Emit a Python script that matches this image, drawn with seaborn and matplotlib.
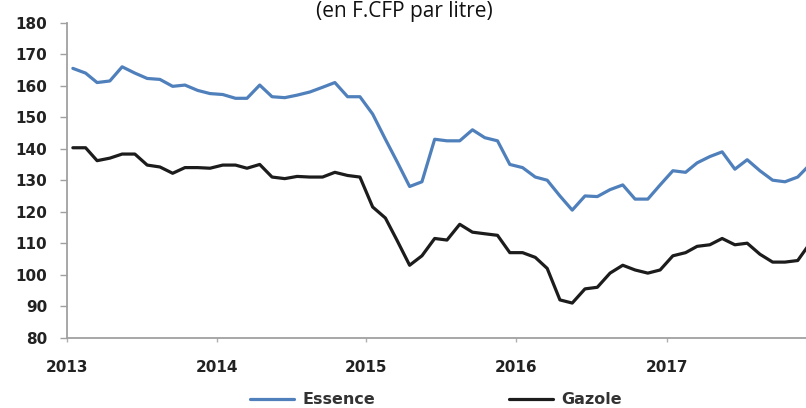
import numpy as np
import pandas as pd
import matplotlib
matplotlib.use("Agg")
import matplotlib.pyplot as plt
import matplotlib.dates as mdates
import seaborn as sns

# ---- data (monthly, F.CFP per litre) ----
months = pd.date_range("2013-01-01", periods=60, freq="MS") + pd.Timedelta(days=15)
essence = [165.5, 164, 161, 161.5, 166, 164, 162.3, 162, 159.8, 160.2, 158.5, 157.5,
           157.2, 156, 156, 160.2, 156.5, 156.2, 157, 158, 159.5, 161, 156.5, 156.5,
           151, 143, 136, 128, 129.5, 143, 142.5, 142.5, 146, 143.5, 142.5, 135,
           134, 131, 130, 125, 120.5, 125, 124.8, 127, 128.5, 124, 124, 128.5,
           133, 132.5, 135.5, 137.5, 139, 133.5, 136.5, 133, 130, 129.5, 131, 135]
gazole = [140.3, 140.3, 136.2, 137, 138.3, 138.3, 134.8, 134.2, 132.2, 134, 134, 133.8,
          134.8, 134.8, 133.8, 135, 131, 130.5, 131.2, 131, 131, 132.5, 131.5, 131,
          121.5, 118, 111, 103, 106, 111.5, 111, 116, 113.5, 113, 112.5, 107,
          107, 105.5, 102, 92, 91, 95.5, 96, 100.5, 103, 101.5, 100.5, 101.5,
          106, 107, 109, 109.5, 111.5, 109.5, 110, 106.5, 104, 104, 104.5, 110]
series_names = ["Essence", "Gazole"]
series_colors = ["#4f80bb", "#1c1c1c"]
yticks = list(range(80, 181, 10))
title = "(en F.CFP par litre)"

df = pd.DataFrame({
    "date": np.tile(months, 2),
    "prix": essence + gazole,
    "serie": np.repeat(series_names, len(months)),
})

sns.set_style("white")
plt.rcParams["font.family"] = ["DejaVu Sans"]

W, H = 806, 408
fig = plt.figure(figsize=(W / 100, H / 100), dpi=100)
x0, x1, ytop, ybot = 66.7, 806, 22.7, 337.7
ax = fig.add_axes([x0 / W, 1 - ybot / H, (x1 - x0) / W, (ybot - ytop) / H])

sns.lineplot(data=df, x="date", y="prix", hue="serie",
             palette=dict(zip(series_names, series_colors)),
             linewidth=2.3, ax=ax, legend=True)

# axes limits
start = pd.Timestamp("2013-01-01")
end = start + pd.Timedelta(days=365.25 * (x1 - x0) / 150.0)
ax.set_xlim(start, end)
ax.set_ylim(80, 180)
ax.set_yticks(yticks)
ax.xaxis.set_major_locator(mdates.YearLocator())
ax.xaxis.set_major_formatter(mdates.DateFormatter("%Y"))
ax.set_xlabel("")
ax.set_ylabel("")

for s in ["top", "right"]:
    ax.spines[s].set_visible(False)
for s in ["left", "bottom"]:
    ax.spines[s].set_color("#a0a0a0")
    ax.spines[s].set_linewidth(1.3)

ax.tick_params(axis="y", direction="out", length=5, width=1, color="#a0a0a0",
               pad=9, labelsize=11, labelcolor="#222222", left=True)
ax.tick_params(axis="x", direction="out", length=3, width=1, color="#b0b0b0",
               pad=13, labelsize=11, labelcolor="#222222", bottom=True)
for lab in ax.get_xticklabels() + ax.get_yticklabels():
    lab.set_fontweight("bold")

# legend below
handles, labels = ax.get_legend_handles_labels()
ax.get_legend().remove()
leg = fig.legend(handles, labels, loc="center", bbox_to_anchor=(436 / W, 1 - 400 / H),
                 ncol=2, frameon=False, handlelength=2.75, handletextpad=0.5,
                 columnspacing=8.4, borderpad=0,
                 prop={"size": 11.5, "weight": "bold"})
for t in leg.get_texts():
    t.set_color("#333333")
for l in leg.get_lines():
    l.set_linewidth(2.3)

fig.text(404 / W, 1 - 16.5 / H, title, ha="center", va="baseline",
         fontsize=15, family=["Open Sans", "DejaVu Sans"], color="#111111")

fig.savefig("out.png", dpi=100)
